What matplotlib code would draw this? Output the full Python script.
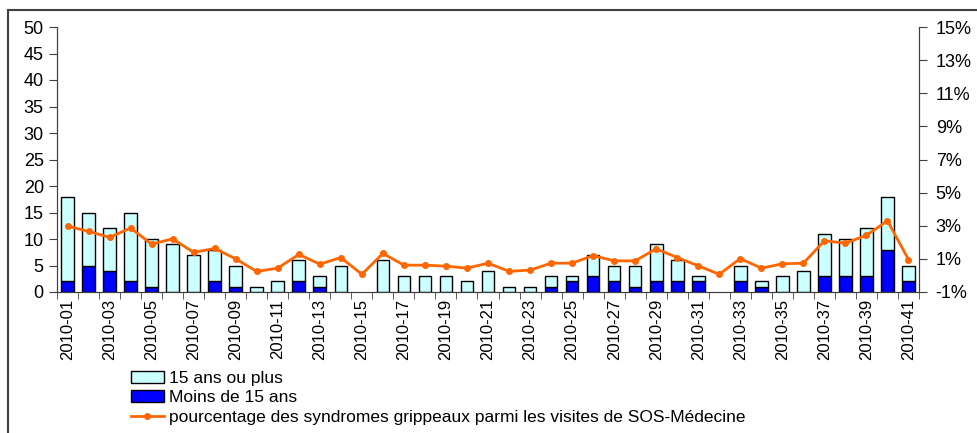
import matplotlib.pyplot as plt
from matplotlib.lines import Line2D
from matplotlib.ticker import FuncFormatter

plt.rcParams['font.family'] = ['Liberation Sans', 'DejaVu Sans']

weeks = ["2010-%02d" % i for i in range(1, 42)]
total = [18, 15, 12, 15, 10, 9, 7, 8, 5, 1, 2, 6, 3, 5, 0, 6, 3, 3, 3, 2, 4,
         1, 1, 3, 3, 7, 5, 5, 9, 6, 3, 0, 5, 2, 3, 4, 11, 10, 12, 18, 5]
moins15 = [2, 5, 4, 2, 1, 0, 0, 2, 1, 0, 0, 2, 1, 0, 0, 0, 0, 0, 0, 0, 0,
           0, 0, 1, 2, 3, 2, 1, 2, 2, 2, 0, 2, 1, 0, 0, 3, 3, 3, 8, 2]
pct = [2.98, 2.66, 2.30, 2.86, 1.89, 2.21, 1.39, 1.63, 1.00, 0.24, 0.44,
       1.27, 0.68, 1.08, 0.07, 1.33, 0.62, 0.62, 0.56, 0.44, 0.74, 0.25,
       0.32, 0.74, 0.74, 1.20, 0.88, 0.88, 1.61, 1.08, 0.58, 0.07, 1.02,
       0.44, 0.70, 0.74, 2.09, 1.95, 2.42, 3.30, 0.96]

plus15 = [t - m for t, m in zip(total, moins15)]
x = list(range(len(weeks)))

fig = plt.figure(figsize=(9.77, 4.33), dpi=100)
ax = fig.add_axes([57 / 977, 1 - 292 / 433, (919 - 57) / 977, (292 - 27) / 433])
ax2 = ax.twinx()

# pas de contour pour les barres vides
lw1 = [1 if v > 0 else 0 for v in moins15]
lw2 = [1 if v > 0 else 0 for v in plus15]
b1 = ax.bar(x, moins15, width=0.6, color="#0000FF", edgecolor="black", linewidth=lw1)
b2 = ax.bar(x, plus15, width=0.6, bottom=moins15, color="#CCFFFF",
            edgecolor="black", linewidth=lw2)
l1, = ax2.plot(x, pct, color="#FF6600", linewidth=2, marker="o", markersize=4)

ax.set_xlim(-0.5, len(weeks) - 0.5)
ax.set_ylim(0, 50)
ax.set_yticks(range(0, 51, 5))
ax2.set_ylim(-1, 15)
ax2.set_yticks(range(-1, 16, 2))
ax2.yaxis.set_major_formatter(FuncFormatter(lambda v, p: "%d%%" % v))

ax.set_xticks(x[::2])
ax.set_xticklabels(weeks[::2], rotation=90, fontsize=12)
ax.set_xticks([i - 0.5 for i in range(len(weeks) + 1)], minor=True)
ax.tick_params(axis="x", which="major", length=0, pad=5)
ax.tick_params(axis="x", which="minor", length=5, color="#404040")
ax.tick_params(axis="y", labelsize=13, length=6, color="#404040")
ax2.tick_params(axis="y", labelsize=13, length=6, pad=6, color="#404040")

for a in (ax, ax2):
    a.spines["top"].set_visible(False)
    for s in ("left", "right", "bottom"):
        a.spines[s].set_color("#404040")

# cadre autour du graphique
fig.add_artist(Line2D([8 / 977, 1], [1 - 10 / 433, 1 - 10 / 433],
                      transform=fig.transFigure, color="#404040", linewidth=1.5))
fig.add_artist(Line2D([8 / 977, 8 / 977], [0, 1 - 10 / 433],
                      transform=fig.transFigure, color="#404040", linewidth=1.5))

fig.legend([b2, b1, l1],
           ["15 ans ou plus", "Moins de 15 ans",
            "pourcentage des syndromes grippeaux parmi les visites de SOS-Médecine"],
           loc="upper left", bbox_to_anchor=(122 / 977, 1 - 362 / 433),
           frameon=False, fontsize=12.5, handlelength=1.9, handleheight=0.7,
           handletextpad=0.3, labelspacing=0.25, borderpad=0)

fig.savefig("out.png", dpi=100)
